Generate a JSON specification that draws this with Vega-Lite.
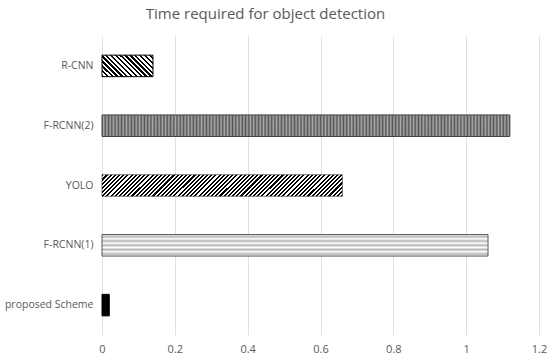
{
"$schema": "https://vega.github.io/schema/vega-lite/v6.json",
"width": 437,
"height": 299,
"autosize": {"type": "none"},
"padding": {"left": 102, "top": 36, "right": 11, "bottom": 26},
"background": "white",
"config": {"view": {"stroke": null}, "font": "Open Sans"},
"title": {"text": "Time required for object detection", "fontSize": 15, "font": "Open Sans", "fontWeight": "normal", "color": "#595959", "dx": -55, "offset": 2, "baseline": "alphabetic"},
"data": {"values": [
{"model": "R-CNN", "time": 0.14},
{"model": "F-RCNN(2)", "time": 1.12},
{"model": "YOLO", "time": 0.66},
{"model": "F-RCNN(1)", "time": 1.06},
{"model": "proposed Scheme", "time": 0.02}
]},
"encoding": {
"y": {"field": "model", "type": "nominal", "title": null,
 "scale": {"domain": ["R-CNN", "F-RCNN(2)", "YOLO", "F-RCNN(1)", "proposed Scheme"], "paddingInner": 0.64, "paddingOuter": 0.32},
 "axis": {"domain": false, "ticks": false, "grid": false, "labelFontSize": 10.5, "labelColor": "#595959", "labelPadding": 9, "labelFont": "Open Sans"}},
"x": {"field": "time", "type": "quantitative", "title": null,
 "scale": {"domain": [0, 1.2]},
 "axis": {"values": [0, 0.2, 0.4, 0.6, 0.8, 1, 1.2], "format": "~g", "domain": false, "ticks": false, "grid": true, "gridColor": "#e0e0e0", "labelFontSize": 11, "labelColor": "#595959", "labelPadding": 8, "labelFlush": false, "labelFont": "Open Sans"}}
},
"layer": [
{"transform": [{"filter": "datum.model === 'R-CNN'"}],
 "mark": {"type": "bar", "stroke": "#000", "strokeWidth": 1,
 "fill": {"gradient": "linear", "x1": 0, "y1": 1, "x2": 1.207, "y2": 0.49, "stops": [
{"offset":0.0333,"color":"#000"},{"offset":0.0333,"color":"#fff"},
{"offset":0.0667,"color":"#fff"},{"offset":0.0667,"color":"#000"},
{"offset":0.1,"color":"#000"},{"offset":0.1,"color":"#fff"},
{"offset":0.1333,"color":"#fff"},{"offset":0.1333,"color":"#000"},
{"offset":0.1667,"color":"#000"},{"offset":0.1667,"color":"#fff"},
{"offset":0.2,"color":"#fff"},{"offset":0.2,"color":"#000"},
{"offset":0.2333,"color":"#000"},{"offset":0.2333,"color":"#fff"},
{"offset":0.2667,"color":"#fff"},{"offset":0.2667,"color":"#000"},
{"offset":0.3,"color":"#000"},{"offset":0.3,"color":"#fff"},
{"offset":0.3333,"color":"#fff"},{"offset":0.3333,"color":"#000"},
{"offset":0.3667,"color":"#000"},{"offset":0.3667,"color":"#fff"},
{"offset":0.4,"color":"#fff"},{"offset":0.4,"color":"#000"},
{"offset":0.4333,"color":"#000"},{"offset":0.4333,"color":"#fff"},
{"offset":0.4667,"color":"#fff"},{"offset":0.4667,"color":"#000"},
{"offset":0.5,"color":"#000"},{"offset":0.5,"color":"#fff"},
{"offset":0.5333,"color":"#fff"},{"offset":0.5333,"color":"#000"},
{"offset":0.5667,"color":"#000"},{"offset":0.5667,"color":"#fff"},
{"offset":0.6,"color":"#fff"},{"offset":0.6,"color":"#000"},
{"offset":0.6333,"color":"#000"},{"offset":0.6333,"color":"#fff"},
{"offset":0.6667,"color":"#fff"},{"offset":0.6667,"color":"#000"},
{"offset":0.7,"color":"#000"},{"offset":0.7,"color":"#fff"},
{"offset":0.7333,"color":"#fff"},{"offset":0.7333,"color":"#000"},
{"offset":0.7667,"color":"#000"},{"offset":0.7667,"color":"#fff"},
{"offset":0.8,"color":"#fff"},{"offset":0.8,"color":"#000"},
{"offset":0.8333,"color":"#000"},{"offset":0.8333,"color":"#fff"},
{"offset":0.8667,"color":"#fff"},{"offset":0.8667,"color":"#000"},
{"offset":0.9,"color":"#000"},{"offset":0.9,"color":"#fff"},
{"offset":0.9333,"color":"#fff"},{"offset":0.9333,"color":"#000"},
{"offset":0.9667,"color":"#000"},{"offset":0.9667,"color":"#fff"}
 ]}}},
{"transform": [{"filter": "datum.model === 'F-RCNN(2)'"}],
 "mark": {"type": "bar", "stroke": "#404040", "strokeWidth": 1,
 "fill": {"gradient": "linear", "x1": 0, "y1": 0, "x2": 1, "y2": 0, "stops": [
{"offset":0,"color":"#555"},{"offset":0.004,"color":"#aaa"},{"offset":0.008,"color":"#555"},{"offset":0.012,"color":"#aaa"},{"offset":0.016,"color":"#555"},{"offset":0.02,"color":"#aaa"},{"offset":0.024,"color":"#555"},{"offset":0.028,"color":"#aaa"},{"offset":0.032,"color":"#555"},{"offset":0.036,"color":"#aaa"},
{"offset":0.04,"color":"#555"},{"offset":0.044,"color":"#aaa"},{"offset":0.048,"color":"#555"},{"offset":0.052,"color":"#aaa"},{"offset":0.056,"color":"#555"},{"offset":0.06,"color":"#aaa"},{"offset":0.064,"color":"#555"},{"offset":0.068,"color":"#aaa"},{"offset":0.072,"color":"#555"},{"offset":0.076,"color":"#aaa"},
{"offset":0.08,"color":"#555"},{"offset":0.084,"color":"#aaa"},{"offset":0.088,"color":"#555"},{"offset":0.092,"color":"#aaa"},{"offset":0.096,"color":"#555"},{"offset":0.1,"color":"#aaa"},{"offset":0.104,"color":"#555"},{"offset":0.108,"color":"#aaa"},{"offset":0.112,"color":"#555"},{"offset":0.116,"color":"#aaa"},
{"offset":0.12,"color":"#555"},{"offset":0.124,"color":"#aaa"},{"offset":0.128,"color":"#555"},{"offset":0.132,"color":"#aaa"},{"offset":0.136,"color":"#555"},{"offset":0.14,"color":"#aaa"},{"offset":0.144,"color":"#555"},{"offset":0.148,"color":"#aaa"},{"offset":0.152,"color":"#555"},{"offset":0.156,"color":"#aaa"},
{"offset":0.16,"color":"#555"},{"offset":0.164,"color":"#aaa"},{"offset":0.168,"color":"#555"},{"offset":0.172,"color":"#aaa"},{"offset":0.176,"color":"#555"},{"offset":0.18,"color":"#aaa"},{"offset":0.184,"color":"#555"},{"offset":0.188,"color":"#aaa"},{"offset":0.192,"color":"#555"},{"offset":0.196,"color":"#aaa"},
{"offset":0.2,"color":"#555"},{"offset":0.204,"color":"#aaa"},{"offset":0.208,"color":"#555"},{"offset":0.212,"color":"#aaa"},{"offset":0.216,"color":"#555"},{"offset":0.22,"color":"#aaa"},{"offset":0.224,"color":"#555"},{"offset":0.228,"color":"#aaa"},{"offset":0.232,"color":"#555"},{"offset":0.236,"color":"#aaa"},
{"offset":0.24,"color":"#555"},{"offset":0.244,"color":"#aaa"},{"offset":0.248,"color":"#555"},{"offset":0.252,"color":"#aaa"},{"offset":0.256,"color":"#555"},{"offset":0.26,"color":"#aaa"},{"offset":0.264,"color":"#555"},{"offset":0.268,"color":"#aaa"},{"offset":0.272,"color":"#555"},{"offset":0.276,"color":"#aaa"},
{"offset":0.28,"color":"#555"},{"offset":0.284,"color":"#aaa"},{"offset":0.288,"color":"#555"},{"offset":0.292,"color":"#aaa"},{"offset":0.296,"color":"#555"},{"offset":0.3,"color":"#aaa"},{"offset":0.304,"color":"#555"},{"offset":0.308,"color":"#aaa"},{"offset":0.312,"color":"#555"},{"offset":0.316,"color":"#aaa"},
{"offset":0.32,"color":"#555"},{"offset":0.324,"color":"#aaa"},{"offset":0.328,"color":"#555"},{"offset":0.332,"color":"#aaa"},{"offset":0.336,"color":"#555"},{"offset":0.34,"color":"#aaa"},{"offset":0.344,"color":"#555"},{"offset":0.348,"color":"#aaa"},{"offset":0.352,"color":"#555"},{"offset":0.356,"color":"#aaa"},
{"offset":0.36,"color":"#555"},{"offset":0.364,"color":"#aaa"},{"offset":0.368,"color":"#555"},{"offset":0.372,"color":"#aaa"},{"offset":0.376,"color":"#555"},{"offset":0.38,"color":"#aaa"},{"offset":0.384,"color":"#555"},{"offset":0.388,"color":"#aaa"},{"offset":0.392,"color":"#555"},{"offset":0.396,"color":"#aaa"},
{"offset":0.4,"color":"#555"},{"offset":0.404,"color":"#aaa"},{"offset":0.408,"color":"#555"},{"offset":0.412,"color":"#aaa"},{"offset":0.416,"color":"#555"},{"offset":0.42,"color":"#aaa"},{"offset":0.424,"color":"#555"},{"offset":0.428,"color":"#aaa"},{"offset":0.432,"color":"#555"},{"offset":0.436,"color":"#aaa"},
{"offset":0.44,"color":"#555"},{"offset":0.444,"color":"#aaa"},{"offset":0.448,"color":"#555"},{"offset":0.452,"color":"#aaa"},{"offset":0.456,"color":"#555"},{"offset":0.46,"color":"#aaa"},{"offset":0.464,"color":"#555"},{"offset":0.468,"color":"#aaa"},{"offset":0.472,"color":"#555"},{"offset":0.476,"color":"#aaa"},
{"offset":0.48,"color":"#555"},{"offset":0.484,"color":"#aaa"},{"offset":0.488,"color":"#555"},{"offset":0.492,"color":"#aaa"},{"offset":0.496,"color":"#555"},{"offset":0.5,"color":"#aaa"},{"offset":0.504,"color":"#555"},{"offset":0.508,"color":"#aaa"},{"offset":0.512,"color":"#555"},{"offset":0.516,"color":"#aaa"},
{"offset":0.52,"color":"#555"},{"offset":0.524,"color":"#aaa"},{"offset":0.528,"color":"#555"},{"offset":0.532,"color":"#aaa"},{"offset":0.536,"color":"#555"},{"offset":0.54,"color":"#aaa"},{"offset":0.544,"color":"#555"},{"offset":0.548,"color":"#aaa"},{"offset":0.552,"color":"#555"},{"offset":0.556,"color":"#aaa"},
{"offset":0.56,"color":"#555"},{"offset":0.564,"color":"#aaa"},{"offset":0.568,"color":"#555"},{"offset":0.572,"color":"#aaa"},{"offset":0.576,"color":"#555"},{"offset":0.58,"color":"#aaa"},{"offset":0.584,"color":"#555"},{"offset":0.588,"color":"#aaa"},{"offset":0.592,"color":"#555"},{"offset":0.596,"color":"#aaa"},
{"offset":0.6,"color":"#555"},{"offset":0.604,"color":"#aaa"},{"offset":0.608,"color":"#555"},{"offset":0.612,"color":"#aaa"},{"offset":0.616,"color":"#555"},{"offset":0.62,"color":"#aaa"},{"offset":0.624,"color":"#555"},{"offset":0.628,"color":"#aaa"},{"offset":0.632,"color":"#555"},{"offset":0.636,"color":"#aaa"},
{"offset":0.64,"color":"#555"},{"offset":0.644,"color":"#aaa"},{"offset":0.648,"color":"#555"},{"offset":0.652,"color":"#aaa"},{"offset":0.656,"color":"#555"},{"offset":0.66,"color":"#aaa"},{"offset":0.664,"color":"#555"},{"offset":0.668,"color":"#aaa"},{"offset":0.672,"color":"#555"},{"offset":0.676,"color":"#aaa"},
{"offset":0.68,"color":"#555"},{"offset":0.684,"color":"#aaa"},{"offset":0.688,"color":"#555"},{"offset":0.692,"color":"#aaa"},{"offset":0.696,"color":"#555"},{"offset":0.7,"color":"#aaa"},{"offset":0.704,"color":"#555"},{"offset":0.708,"color":"#aaa"},{"offset":0.712,"color":"#555"},{"offset":0.716,"color":"#aaa"},
{"offset":0.72,"color":"#555"},{"offset":0.724,"color":"#aaa"},{"offset":0.728,"color":"#555"},{"offset":0.732,"color":"#aaa"},{"offset":0.736,"color":"#555"},{"offset":0.74,"color":"#aaa"},{"offset":0.744,"color":"#555"},{"offset":0.748,"color":"#aaa"},{"offset":0.752,"color":"#555"},{"offset":0.756,"color":"#aaa"},
{"offset":0.76,"color":"#555"},{"offset":0.764,"color":"#aaa"},{"offset":0.768,"color":"#555"},{"offset":0.772,"color":"#aaa"},{"offset":0.776,"color":"#555"},{"offset":0.78,"color":"#aaa"},{"offset":0.784,"color":"#555"},{"offset":0.788,"color":"#aaa"},{"offset":0.792,"color":"#555"},{"offset":0.796,"color":"#aaa"},
{"offset":0.8,"color":"#555"},{"offset":0.804,"color":"#aaa"},{"offset":0.808,"color":"#555"},{"offset":0.812,"color":"#aaa"},{"offset":0.816,"color":"#555"},{"offset":0.82,"color":"#aaa"},{"offset":0.824,"color":"#555"},{"offset":0.828,"color":"#aaa"},{"offset":0.832,"color":"#555"},{"offset":0.836,"color":"#aaa"},
{"offset":0.84,"color":"#555"},{"offset":0.844,"color":"#aaa"},{"offset":0.848,"color":"#555"},{"offset":0.852,"color":"#aaa"},{"offset":0.856,"color":"#555"},{"offset":0.86,"color":"#aaa"},{"offset":0.864,"color":"#555"},{"offset":0.868,"color":"#aaa"},{"offset":0.872,"color":"#555"},{"offset":0.876,"color":"#aaa"},
{"offset":0.88,"color":"#555"},{"offset":0.884,"color":"#aaa"},{"offset":0.888,"color":"#555"},{"offset":0.892,"color":"#aaa"},{"offset":0.896,"color":"#555"},{"offset":0.9,"color":"#aaa"},{"offset":0.904,"color":"#555"},{"offset":0.908,"color":"#aaa"},{"offset":0.912,"color":"#555"},{"offset":0.916,"color":"#aaa"},
{"offset":0.92,"color":"#555"},{"offset":0.924,"color":"#aaa"},{"offset":0.928,"color":"#555"},{"offset":0.932,"color":"#aaa"},{"offset":0.936,"color":"#555"},{"offset":0.94,"color":"#aaa"},{"offset":0.944,"color":"#555"},{"offset":0.948,"color":"#aaa"},{"offset":0.952,"color":"#555"},{"offset":0.956,"color":"#aaa"},
{"offset":0.96,"color":"#555"},{"offset":0.964,"color":"#aaa"},{"offset":0.968,"color":"#555"},{"offset":0.972,"color":"#aaa"},{"offset":0.976,"color":"#555"},{"offset":0.98,"color":"#aaa"},{"offset":0.984,"color":"#555"},{"offset":0.988,"color":"#aaa"},{"offset":0.992,"color":"#555"},{"offset":0.996,"color":"#aaa"},
{"offset":1,"color":"#555"}
 ]}}},
{"transform": [{"filter": "datum.model === 'YOLO'"}],
 "mark": {"type": "bar", "stroke": "#000", "strokeWidth": 0.5,
 "fill": {"gradient": "linear", "x1": 0, "y1": 0, "x2": 1.081, "y2": 0.097, "stops": [
{"offset":0.008,"color":"#000"},{"offset":0.008,"color":"#fff"},{"offset":0.016,"color":"#fff"},{"offset":0.016,"color":"#000"},{"offset":0.024,"color":"#000"},{"offset":0.024,"color":"#fff"},{"offset":0.032,"color":"#fff"},{"offset":0.032,"color":"#000"},{"offset":0.04,"color":"#000"},{"offset":0.04,"color":"#fff"},{"offset":0.048,"color":"#fff"},{"offset":0.048,"color":"#000"},{"offset":0.056,"color":"#000"},{"offset":0.056,"color":"#fff"},{"offset":0.064,"color":"#fff"},{"offset":0.064,"color":"#000"},{"offset":0.072,"color":"#000"},{"offset":0.072,"color":"#fff"},{"offset":0.08,"color":"#fff"},{"offset":0.08,"color":"#000"},
{"offset":0.088,"color":"#000"},{"offset":0.088,"color":"#fff"},{"offset":0.096,"color":"#fff"},{"offset":0.096,"color":"#000"},{"offset":0.104,"color":"#000"},{"offset":0.104,"color":"#fff"},{"offset":0.112,"color":"#fff"},{"offset":0.112,"color":"#000"},{"offset":0.12,"color":"#000"},{"offset":0.12,"color":"#fff"},{"offset":0.128,"color":"#fff"},{"offset":0.128,"color":"#000"},{"offset":0.136,"color":"#000"},{"offset":0.136,"color":"#fff"},{"offset":0.144,"color":"#fff"},{"offset":0.144,"color":"#000"},{"offset":0.152,"color":"#000"},{"offset":0.152,"color":"#fff"},{"offset":0.16,"color":"#fff"},{"offset":0.16,"color":"#000"},
{"offset":0.168,"color":"#000"},{"offset":0.168,"color":"#fff"},{"offset":0.176,"color":"#fff"},{"offset":0.176,"color":"#000"},{"offset":0.184,"color":"#000"},{"offset":0.184,"color":"#fff"},{"offset":0.192,"color":"#fff"},{"offset":0.192,"color":"#000"},{"offset":0.2,"color":"#000"},{"offset":0.2,"color":"#fff"},{"offset":0.208,"color":"#fff"},{"offset":0.208,"color":"#000"},{"offset":0.216,"color":"#000"},{"offset":0.216,"color":"#fff"},{"offset":0.224,"color":"#fff"},{"offset":0.224,"color":"#000"},{"offset":0.232,"color":"#000"},{"offset":0.232,"color":"#fff"},{"offset":0.24,"color":"#fff"},{"offset":0.24,"color":"#000"},
{"offset":0.248,"color":"#000"},{"offset":0.248,"color":"#fff"},{"offset":0.256,"color":"#fff"},{"offset":0.256,"color":"#000"},{"offset":0.264,"color":"#000"},{"offset":0.264,"color":"#fff"},{"offset":0.272,"color":"#fff"},{"offset":0.272,"color":"#000"},{"offset":0.28,"color":"#000"},{"offset":0.28,"color":"#fff"},{"offset":0.288,"color":"#fff"},{"offset":0.288,"color":"#000"},{"offset":0.296,"color":"#000"},{"offset":0.296,"color":"#fff"},{"offset":0.304,"color":"#fff"},{"offset":0.304,"color":"#000"},{"offset":0.312,"color":"#000"},{"offset":0.312,"color":"#fff"},{"offset":0.32,"color":"#fff"},{"offset":0.32,"color":"#000"},
{"offset":0.328,"color":"#000"},{"offset":0.328,"color":"#fff"},{"offset":0.336,"color":"#fff"},{"offset":0.336,"color":"#000"},{"offset":0.344,"color":"#000"},{"offset":0.344,"color":"#fff"},{"offset":0.352,"color":"#fff"},{"offset":0.352,"color":"#000"},{"offset":0.36,"color":"#000"},{"offset":0.36,"color":"#fff"},{"offset":0.368,"color":"#fff"},{"offset":0.368,"color":"#000"},{"offset":0.376,"color":"#000"},{"offset":0.376,"color":"#fff"},{"offset":0.384,"color":"#fff"},{"offset":0.384,"color":"#000"},{"offset":0.392,"color":"#000"},{"offset":0.392,"color":"#fff"},{"offset":0.4,"color":"#fff"},{"offset":0.4,"color":"#000"},
{"offset":0.408,"color":"#000"},{"offset":0.408,"color":"#fff"},{"offset":0.416,"color":"#fff"},{"offset":0.416,"color":"#000"},{"offset":0.424,"color":"#000"},{"offset":0.424,"color":"#fff"},{"offset":0.432,"color":"#fff"},{"offset":0.432,"color":"#000"},{"offset":0.44,"color":"#000"},{"offset":0.44,"color":"#fff"},{"offset":0.448,"color":"#fff"},{"offset":0.448,"color":"#000"},{"offset":0.456,"color":"#000"},{"offset":0.456,"color":"#fff"},{"offset":0.464,"color":"#fff"},{"offset":0.464,"color":"#000"},{"offset":0.472,"color":"#000"},{"offset":0.472,"color":"#fff"},{"offset":0.48,"color":"#fff"},{"offset":0.48,"color":"#000"},
{"offset":0.488,"color":"#000"},{"offset":0.488,"color":"#fff"},{"offset":0.496,"color":"#fff"},{"offset":0.496,"color":"#000"},{"offset":0.504,"color":"#000"},{"offset":0.504,"color":"#fff"},{"offset":0.512,"color":"#fff"},{"offset":0.512,"color":"#000"},{"offset":0.52,"color":"#000"},{"offset":0.52,"color":"#fff"},{"offset":0.528,"color":"#fff"},{"offset":0.528,"color":"#000"},{"offset":0.536,"color":"#000"},{"offset":0.536,"color":"#fff"},{"offset":0.544,"color":"#fff"},{"offset":0.544,"color":"#000"},{"offset":0.552,"color":"#000"},{"offset":0.552,"color":"#fff"},{"offset":0.56,"color":"#fff"},{"offset":0.56,"color":"#000"},
{"offset":0.568,"color":"#000"},{"offset":0.568,"color":"#fff"},{"offset":0.576,"color":"#fff"},{"offset":0.576,"color":"#000"},{"offset":0.584,"color":"#000"},{"offset":0.584,"color":"#fff"},{"offset":0.592,"color":"#fff"},{"offset":0.592,"color":"#000"},{"offset":0.6,"color":"#000"},{"offset":0.6,"color":"#fff"},{"offset":0.608,"color":"#fff"},{"offset":0.608,"color":"#000"},{"offset":0.616,"color":"#000"},{"offset":0.616,"color":"#fff"},{"offset":0.624,"color":"#fff"},{"offset":0.624,"color":"#000"},{"offset":0.632,"color":"#000"},{"offset":0.632,"color":"#fff"},{"offset":0.64,"color":"#fff"},{"offset":0.64,"color":"#000"},
{"offset":0.648,"color":"#000"},{"offset":0.648,"color":"#fff"},{"offset":0.656,"color":"#fff"},{"offset":0.656,"color":"#000"},{"offset":0.664,"color":"#000"},{"offset":0.664,"color":"#fff"},{"offset":0.672,"color":"#fff"},{"offset":0.672,"color":"#000"},{"offset":0.68,"color":"#000"},{"offset":0.68,"color":"#fff"},{"offset":0.688,"color":"#fff"},{"offset":0.688,"color":"#000"},{"offset":0.696,"color":"#000"},{"offset":0.696,"color":"#fff"},{"offset":0.704,"color":"#fff"},{"offset":0.704,"color":"#000"},{"offset":0.712,"color":"#000"},{"offset":0.712,"color":"#fff"},{"offset":0.72,"color":"#fff"},{"offset":0.72,"color":"#000"},
{"offset":0.728,"color":"#000"},{"offset":0.728,"color":"#fff"},{"offset":0.736,"color":"#fff"},{"offset":0.736,"color":"#000"},{"offset":0.744,"color":"#000"},{"offset":0.744,"color":"#fff"},{"offset":0.752,"color":"#fff"},{"offset":0.752,"color":"#000"},{"offset":0.76,"color":"#000"},{"offset":0.76,"color":"#fff"},{"offset":0.768,"color":"#fff"},{"offset":0.768,"color":"#000"},{"offset":0.776,"color":"#000"},{"offset":0.776,"color":"#fff"},{"offset":0.784,"color":"#fff"},{"offset":0.784,"color":"#000"},{"offset":0.792,"color":"#000"},{"offset":0.792,"color":"#fff"},{"offset":0.8,"color":"#fff"},{"offset":0.8,"color":"#000"},
{"offset":0.808,"color":"#000"},{"offset":0.808,"color":"#fff"},{"offset":0.816,"color":"#fff"},{"offset":0.816,"color":"#000"},{"offset":0.824,"color":"#000"},{"offset":0.824,"color":"#fff"},{"offset":0.832,"color":"#fff"},{"offset":0.832,"color":"#000"},{"offset":0.84,"color":"#000"},{"offset":0.84,"color":"#fff"},{"offset":0.848,"color":"#fff"},{"offset":0.848,"color":"#000"},{"offset":0.856,"color":"#000"},{"offset":0.856,"color":"#fff"},{"offset":0.864,"color":"#fff"},{"offset":0.864,"color":"#000"},{"offset":0.872,"color":"#000"},{"offset":0.872,"color":"#fff"},{"offset":0.88,"color":"#fff"},{"offset":0.88,"color":"#000"},
{"offset":0.888,"color":"#000"},{"offset":0.888,"color":"#fff"},{"offset":0.896,"color":"#fff"},{"offset":0.896,"color":"#000"},{"offset":0.904,"color":"#000"},{"offset":0.904,"color":"#fff"},{"offset":0.912,"color":"#fff"},{"offset":0.912,"color":"#000"},{"offset":0.92,"color":"#000"},{"offset":0.92,"color":"#fff"},{"offset":0.928,"color":"#fff"},{"offset":0.928,"color":"#000"},{"offset":0.936,"color":"#000"},{"offset":0.936,"color":"#fff"},{"offset":0.944,"color":"#fff"},{"offset":0.944,"color":"#000"},{"offset":0.952,"color":"#000"},{"offset":0.952,"color":"#fff"},{"offset":0.96,"color":"#fff"},{"offset":0.96,"color":"#000"},
{"offset":0.968,"color":"#000"},{"offset":0.968,"color":"#fff"},{"offset":0.976,"color":"#fff"},{"offset":0.976,"color":"#000"},{"offset":0.984,"color":"#000"},{"offset":0.984,"color":"#fff"},{"offset":0.992,"color":"#fff"},{"offset":0.992,"color":"#000"}
 ]}}},
{"transform": [{"filter": "datum.model === 'F-RCNN(1)'"}],
 "mark": {"type": "bar", "stroke": "#595959", "strokeWidth": 1,
 "fill": {"gradient": "linear", "x1": 0, "y1": 0, "x2": 0, "y2": 1, "stops": [
{"offset":0,"color":"#fff"},{"offset":0.1,"color":"#b4b4b4"},{"offset":0.2,"color":"#fff"},{"offset":0.3,"color":"#b4b4b4"},{"offset":0.4,"color":"#fff"},{"offset":0.5,"color":"#b4b4b4"},{"offset":0.6,"color":"#fff"},{"offset":0.7,"color":"#b4b4b4"},{"offset":0.8,"color":"#fff"},{"offset":0.9,"color":"#b4b4b4"},{"offset":1,"color":"#fff"}
 ]}}},
{"transform": [{"filter": "datum.model === 'proposed Scheme'"}],
 "mark": {"type": "bar", "fill": "#000", "stroke": "#000", "strokeWidth": 1}}
]
}
